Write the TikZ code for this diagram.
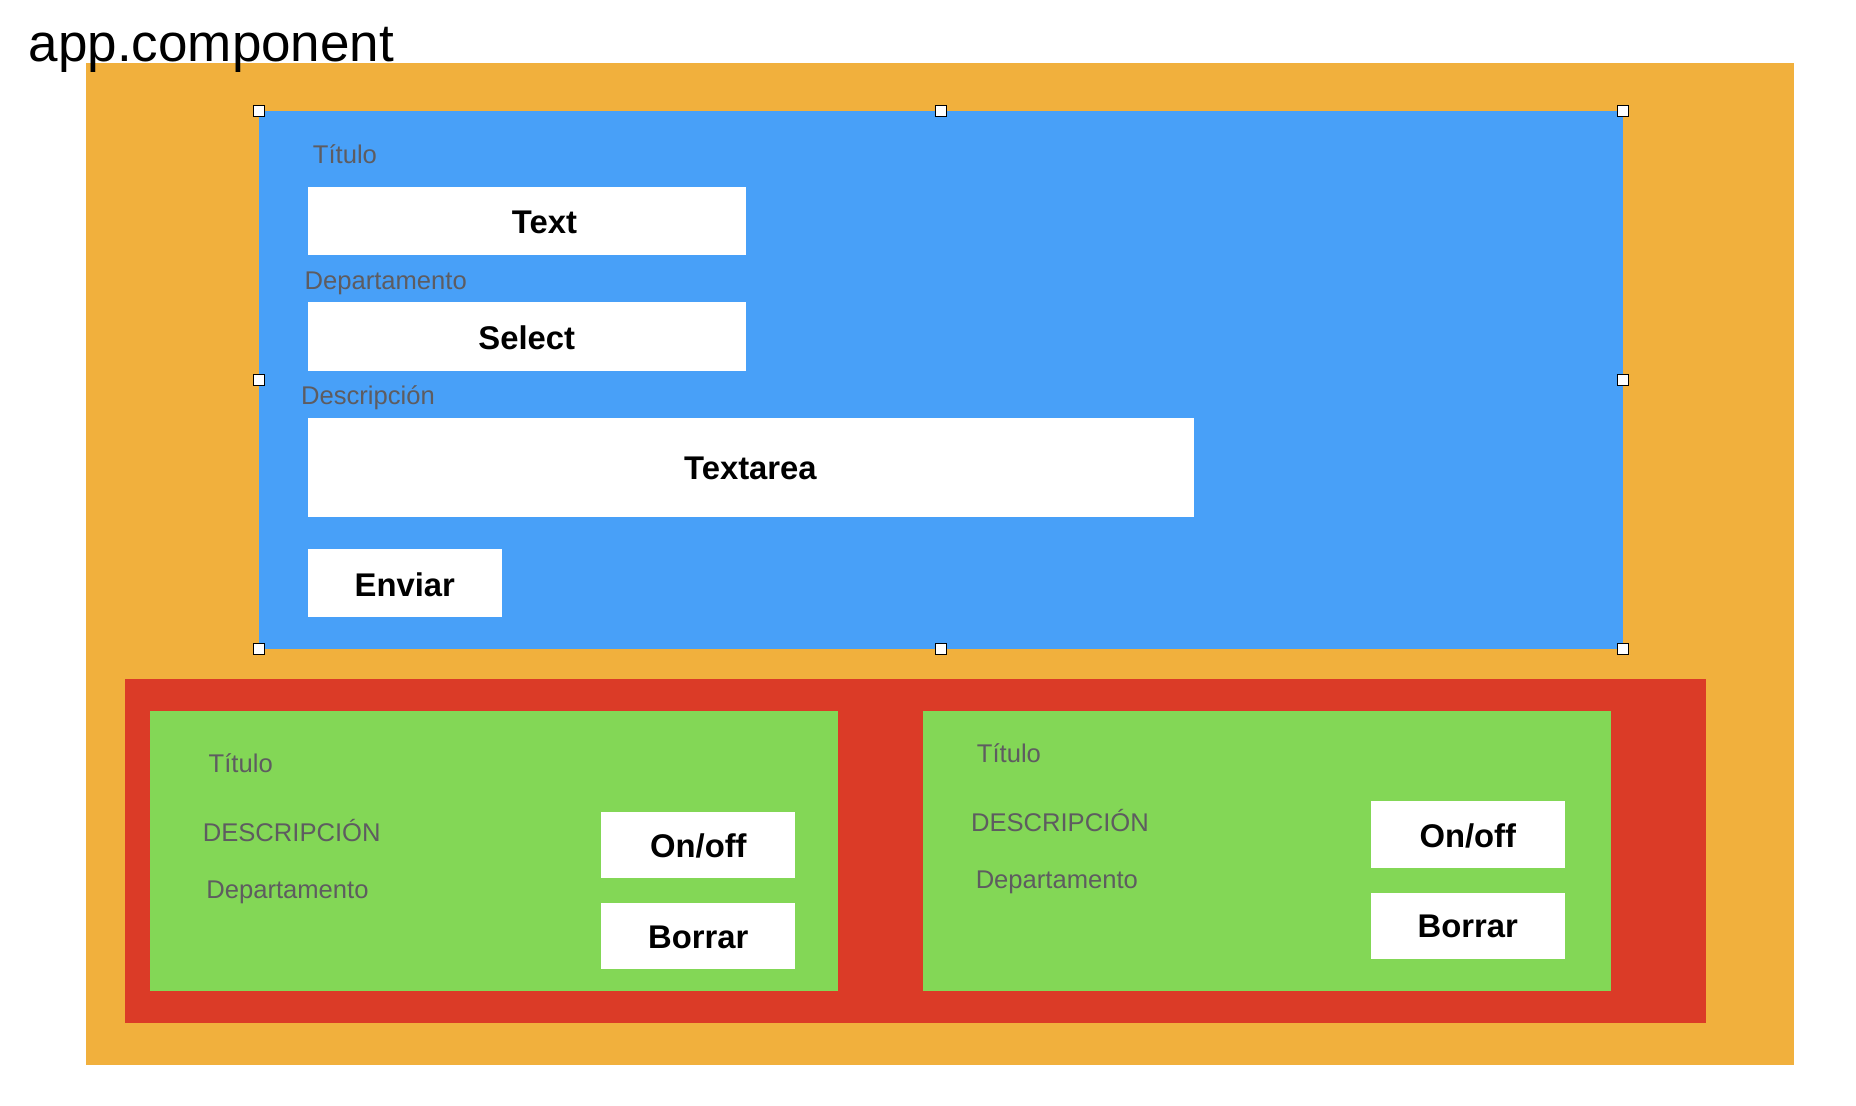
\documentclass[tikz,border=0pt]{standalone}
\usepackage{fontspec}
\setmainfont{Liberation Sans}
\definecolor{orangebg}{HTML}{F1B03D}
\definecolor{bluebg}{HTML}{48A0F8}
\definecolor{redbg}{HTML}{DB3B27}
\definecolor{greenbg}{HTML}{83D756}
\definecolor{labelgray}{HTML}{5E5C60}
\tikzset{
  lbl/.style={anchor=west,inner sep=0pt,text=labelgray,font=\fontsize{12.8}{14}\selectfont},
  btntext/.style={inner sep=0pt,font=\fontsize{16.4}{18}\selectfont\bfseries},
  handle/.style={draw=black,fill=white,line width=0.5pt,minimum size=5.6pt,inner sep=0pt,rectangle},
}
\begin{document}
\begin{tikzpicture}[x=0.59185pt,y=-0.59185pt]
\useasboundingbox (0,0) rectangle (1568,934);
% containers
\fill[orangebg] (73,53) rectangle (1516,900);
\fill[bluebg] (219,94) rectangle (1371,548);
\fill[redbg] (106,574) rectangle (1441,864);
\fill[greenbg] (127,601) rectangle (708,837);
\fill[greenbg] (780,601) rectangle (1361,837);
% title
\node[anchor=base west,inner sep=0pt,font=\fontsize{26.5}{30}\selectfont] (title) at (24,52) {app.component};
% selection handles
\foreach \hx/\hy [count=\i] in {219/94,795/94,1371/94,219/321,1371/321,219/548,795/548,1371/548}
  \node[handle] (h\i) at (\hx,\hy) {};
% form
\node[lbl] (ftitulo) at (264,130) {Título};
\fill[white] (260,158) rectangle (630,215);
\node[btntext] (ftext) at (460,188) {Text};
\node[lbl] (fdep) at (257,239) {Departamento};
\fill[white] (260,255) rectangle (630,313);
\node[btntext] (fselect) at (445,285) {Select};
\node[lbl] (fdesc) at (254,336) {Descripción};
\fill[white] (260,353) rectangle (1009,437);
\node[btntext] (ftextarea) at (634,396) {Textarea};
\fill[white] (260,464) rectangle (424,521);
\node[btntext] (fenviar) at (342,494) {Enviar};
% card 1
\node[lbl] (c1titulo) at (176,645) {Título};
\node[lbl] (c1desc) at (171,702) {DESCRIPCIÓN};
\node[lbl] (c1dep) at (174,754) {Departamento};
\fill[white] (508,686) rectangle (672,742);
\node[btntext] (c1on) at (590,715) {On/off};
\fill[white] (508,763) rectangle (672,819);
\node[btntext] (c1borrar) at (590,792) {Borrar};
% card 2
\node[lbl] (c2titulo) at (825,636) {Título};
\node[lbl] (c2desc) at (820,693) {DESCRIPCIÓN};
\node[lbl] (c2dep) at (824,745) {Departamento};
\fill[white] (1158,677) rectangle (1322,733);
\node[btntext] (c2on) at (1240,706) {On/off};
\fill[white] (1158,754) rectangle (1322,810);
\node[btntext] (c2borrar) at (1240,783) {Borrar};
\end{tikzpicture}
\end{document}
